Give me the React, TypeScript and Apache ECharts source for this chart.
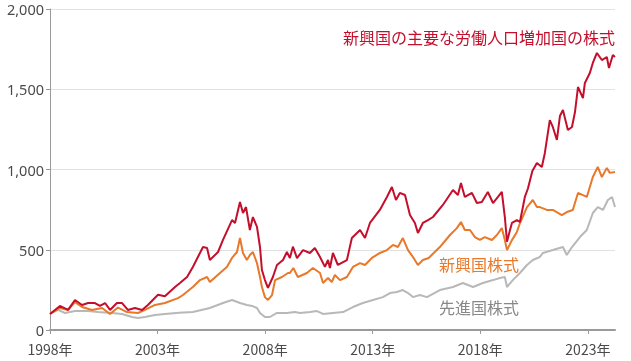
import React, { useEffect, useRef } from "react";
import * as echarts from "echarts";

// [year, index value]
const laborGrowthSeries: [number, number][] = [
  [1998.0, 100], [1998.23, 125], [1998.46, 150], [1998.84, 125], [1999.16, 187], [1999.49, 156], [1999.77, 168],
  [2000.09, 168], [2000.32, 150], [2000.56, 168], [2000.79, 125], [2001.11, 168], [2001.35, 168], [2001.62, 125],
  [2001.95, 137], [2002.28, 125], [2002.55, 156], [2003.02, 220], [2003.34, 210], [2003.81, 268], [2004.04, 293],
  [2004.37, 330], [2004.64, 393], [2004.97, 480], [2005.11, 517], [2005.3, 511], [2005.43, 436], [2005.81, 486],
  [2006.04, 561], [2006.46, 685], [2006.6, 667], [2006.83, 797], [2006.97, 729], [2007.11, 766], [2007.29, 623],
  [2007.43, 704], [2007.62, 642], [2007.76, 517], [2007.85, 374], [2007.99, 311], [2008.13, 262], [2008.36, 330],
  [2008.55, 405], [2008.83, 436], [2009.01, 486], [2009.15, 449], [2009.29, 519], [2009.48, 448], [2009.76, 498],
  [2010.08, 480], [2010.31, 511], [2010.55, 455], [2010.78, 393], [2010.92, 436], [2011.01, 386], [2011.15, 480],
  [2011.38, 405], [2011.8, 436], [2012.03, 573], [2012.41, 623], [2012.64, 573], [2012.87, 667], [2013.33, 748],
  [2013.66, 829], [2013.89, 891], [2014.08, 810], [2014.26, 854], [2014.5, 841], [2014.73, 716], [2014.96, 667],
  [2015.1, 604], [2015.33, 667], [2015.57, 685], [2015.8, 704], [2016.26, 779], [2016.73, 872], [2016.96, 841],
  [2017.1, 916], [2017.28, 829], [2017.61, 854], [2017.84, 791], [2018.07, 797], [2018.35, 860], [2018.59, 791],
  [2018.82, 829], [2019.0, 860], [2019.14, 704], [2019.24, 550], [2019.38, 623], [2019.47, 667], [2019.7, 685],
  [2019.84, 673], [2019.98, 766], [2020.07, 829], [2020.21, 880], [2020.42, 990], [2020.63, 1040], [2020.86, 1016],
  [2021.0, 1103], [2021.23, 1308], [2021.37, 1265], [2021.56, 1184], [2021.7, 1333], [2021.84, 1371], [2022.07, 1246],
  [2022.26, 1265], [2022.4, 1358], [2022.54, 1514], [2022.77, 1445], [2022.86, 1539], [2023.09, 1601], [2023.23, 1664],
  [2023.42, 1726], [2023.65, 1682], [2023.88, 1701], [2023.98, 1632], [2024.16, 1713], [2024.26, 1701],
];

const emergingSeries: [number, number][] = [
  [1998.0, 100], [1998.46, 137], [1998.84, 125], [1999.16, 174], [1999.49, 143], [1999.95, 125], [2000.42, 137],
  [2000.79, 100], [2001.16, 140], [2001.58, 112], [2002.09, 106], [2002.41, 125], [2002.88, 156], [2003.34, 168],
  [2003.95, 199], [2004.18, 218], [2004.64, 268], [2004.97, 311], [2005.3, 330], [2005.43, 299], [2005.9, 355],
  [2006.22, 393], [2006.46, 449], [2006.69, 486], [2006.83, 573], [2006.97, 480], [2007.15, 436], [2007.29, 467],
  [2007.43, 486], [2007.62, 417], [2007.76, 330], [2007.85, 268], [2007.99, 205], [2008.13, 187], [2008.32, 218],
  [2008.46, 311], [2008.78, 330], [2009.06, 355], [2009.15, 355], [2009.31, 386], [2009.52, 330], [2009.94, 355],
  [2010.22, 386], [2010.55, 355], [2010.69, 293], [2010.92, 324], [2011.1, 299], [2011.24, 343], [2011.48, 311],
  [2011.8, 330], [2012.08, 393], [2012.41, 417], [2012.64, 405], [2012.96, 449], [2013.33, 480], [2013.66, 498],
  [2013.94, 530], [2014.17, 517], [2014.4, 573], [2014.64, 498], [2014.87, 455], [2015.1, 405], [2015.33, 436],
  [2015.6, 449], [2016.12, 517], [2016.59, 592], [2016.91, 635], [2017.1, 673], [2017.28, 623], [2017.52, 623],
  [2017.75, 579], [2017.98, 561], [2018.21, 579], [2018.54, 561], [2018.77, 592], [2019.0, 635], [2019.14, 561],
  [2019.24, 498], [2019.47, 560], [2019.7, 611], [2019.84, 665], [2020.17, 766], [2020.44, 810], [2020.63, 766],
  [2020.77, 766], [2021.09, 748], [2021.37, 748], [2021.79, 716], [2022.02, 735], [2022.3, 748], [2022.54, 854],
  [2022.95, 829], [2023.23, 953], [2023.46, 1016], [2023.65, 953], [2023.88, 1010], [2024.02, 979], [2024.26, 985],
];

const developedSeries: [number, number][] = [
  [1998.0, 100], [1998.37, 125], [1998.7, 106], [1999.16, 118], [1999.77, 118], [2000.23, 112], [2000.88, 106],
  [2001.35, 100], [2001.81, 81], [2002.09, 75], [2002.41, 81], [2002.88, 93], [2003.34, 100], [2004.0, 108],
  [2004.64, 112], [2005.43, 137], [2006.04, 168], [2006.46, 187], [2006.83, 168], [2007.15, 156], [2007.39, 150],
  [2007.62, 137], [2007.76, 106], [2007.99, 81], [2008.22, 81], [2008.55, 106], [2009.01, 106], [2009.38, 112],
  [2009.62, 106], [2010.08, 112], [2010.41, 118], [2010.69, 100], [2011.15, 106], [2011.62, 112], [2012.08, 143],
  [2012.54, 168], [2013.01, 187], [2013.47, 205], [2013.8, 230], [2014.12, 237], [2014.4, 249], [2014.64, 230],
  [2014.87, 205], [2015.19, 218], [2015.52, 205], [2016.12, 249], [2016.73, 268], [2017.19, 293], [2017.66, 268],
  [2018.12, 293], [2018.59, 311], [2018.91, 324], [2019.14, 330], [2019.24, 268], [2019.51, 311], [2019.84, 355],
  [2020.17, 405], [2020.44, 436], [2020.77, 455], [2020.91, 480], [2021.37, 498], [2021.84, 517], [2022.02, 467],
  [2022.26, 517], [2022.63, 579], [2022.95, 623], [2023.23, 729], [2023.46, 766], [2023.7, 748], [2023.93, 810],
  [2024.12, 829], [2024.26, 766],
];

const xTickYears = [1998, 2003, 2008, 2013, 2018, 2023];
const yTicks = [0, 500, 1000, 1500, 2000];

const seriesNames = ["新興国の主要な労働人口増加国の株式", "新興国株式", "先進国株式"];

const RED = "#c40f2c";
const ORANGE = "#e8782a";
const GRAY = "#b8b8b8";
const FONT = "'Noto Sans CJK JP', 'Noto Sans', sans-serif";

export default function App() {
  const ref = useRef<HTMLDivElement>(null);
  useEffect(() => {
    if (!ref.current) return;
    const chart = echarts.init(ref.current, null, { renderer: "svg" });
    chart.setOption({
      animation: false,
      grid: { left: 50, right: 16, top: 9, bottom: 31 },
      xAxis: {
        type: "value",
        min: xTickYears[0],
        max: 2024.26,
        axisLine: { show: true, lineStyle: { color: "#9a9a9a", width: 2 } },
        axisTick: { show: true, length: 4, lineStyle: { color: "#9a9a9a" }, customValues: xTickYears },
        axisLabel: {
          customValues: xTickYears,
          formatter: (v: number) => `${v}年`,
          color: "#4a4a4a",
          fontSize: 14,
          lineHeight: 14,
          fontFamily: FONT,
          margin: 12,
        },
        splitLine: { show: false },
      },
      yAxis: {
        type: "value",
        min: yTicks[0],
        max: yTicks[yTicks.length - 1],
        interval: 500,
        axisLine: { show: true, lineStyle: { color: "#9a9a9a", width: 1 } },
        axisTick: { show: true, length: 4, lineStyle: { color: "#9a9a9a" } },
        axisLabel: {
          formatter: (v: number) => v.toLocaleString("en-US"),
          color: "#4a4a4a",
          fontSize: 14.5,
          lineHeight: 13,
          padding: [0, 0, 2, 0],
          fontFamily: "'Noto Sans', sans-serif",
          margin: 6,
        },
        splitLine: { show: true, lineStyle: { color: "#e2e2e2", width: 1 } },
      },
      series: [
        { name: seriesNames[2], type: "line", data: developedSeries, showSymbol: false, lineStyle: { color: GRAY, width: 2 }, itemStyle: { color: GRAY } },
        { name: seriesNames[1], type: "line", data: emergingSeries, showSymbol: false, lineStyle: { color: ORANGE, width: 2 }, itemStyle: { color: ORANGE } },
        { name: seriesNames[0], type: "line", data: laborGrowthSeries, showSymbol: false, lineStyle: { color: RED, width: 2 }, itemStyle: { color: RED } },
      ],
      graphic: [
        { type: "text", right: 16, top: 29, style: { text: seriesNames[0], fill: RED, fontSize: 16, fontFamily: FONT } },
        { type: "text", left: 439, top: 256, style: { text: seriesNames[1], fill: ORANGE, fontSize: 16, fontFamily: FONT } },
        { type: "text", left: 439, top: 299, style: { text: seriesNames[2], fill: "#888888", fontSize: 16, fontFamily: FONT } },
      ],
    });
    return () => chart.dispose();
  }, []);
  return <div ref={ref} style={{ position: "fixed", left: 0, top: 0, width: 631, height: 361 }} />;
}
